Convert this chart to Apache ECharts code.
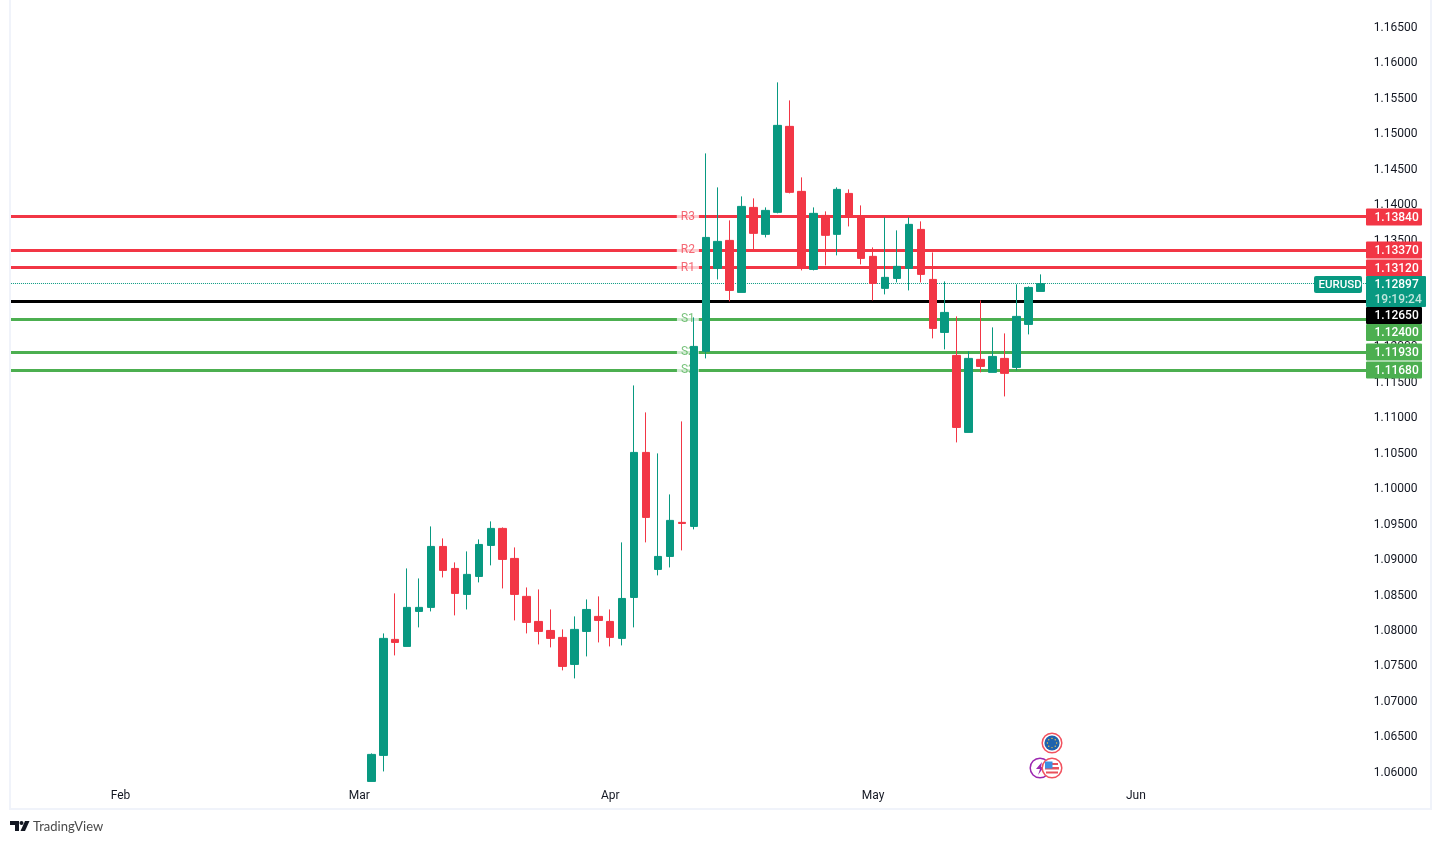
<!DOCTYPE html>
<html>
<head>
<meta charset="utf-8">
<title>EURUSD</title>
<script src="https://cdn.jsdelivr.net/npm/echarts@6/dist/echarts.min.js"></script>
<style>
  html, body { margin: 0; background: #fff; }
  #chart { width: 1441px; height: 844px; }
</style>
</head>
<body>
<div id="chart"></div>
<script>
// Daily EURUSD candles. First candle is 2025-03-04.
const FIRST_CANDLE = 30;
const opens = [
  1.05880, 1.06247, 1.07882, 1.07783, 1.08276, 1.08333, 1.09192, 1.08882, 1.08516, 1.08769,
  1.09206, 1.09446, 1.09023, 1.08488, 1.08135, 1.08008, 1.07910, 1.07529, 1.07994, 1.08206,
  1.08135, 1.07896, 1.08473, 1.10517, 1.08868, 1.09051, 1.09531, 1.09474, 1.11941, 1.13110,
  1.13505, 1.12772, 1.13970, 1.13590, 1.13900, 1.15112, 1.14196, 1.13096, 1.13857, 1.13590,
  1.14167, 1.13843, 1.13280, 1.12829, 1.12969, 1.13110, 1.13660, 1.12955, 1.12208, 1.11884,
  1.10799, 1.11828, 1.11645, 1.11842, 1.11715, 1.12321, 1.12786,
];
const closes = [
  1.06261, 1.07896, 1.07839, 1.08333, 1.08333, 1.09192, 1.08854, 1.08530, 1.08798, 1.09220,
  1.09446, 1.09009, 1.08516, 1.08121, 1.07994, 1.07896, 1.07501, 1.08023, 1.08304, 1.08149,
  1.07910, 1.08459, 1.10517, 1.09601, 1.09051, 1.09559, 1.09516, 1.12011, 1.13547, 1.13491,
  1.12800, 1.13984, 1.13604, 1.13928, 1.15126, 1.14182, 1.13124, 1.13886, 1.13576, 1.14224,
  1.13843, 1.13251, 1.12899, 1.12984, 1.13139, 1.13731, 1.13026, 1.12265, 1.12490, 1.10869,
  1.11842, 1.11729, 1.11870, 1.11631, 1.12434, 1.12842, 1.12897,
];
const lows = [
  1.05880, 1.06021, 1.07656, 1.07783, 1.08051, 1.08276, 1.08755, 1.08220, 1.08304, 1.08685,
  1.08925, 1.08600, 1.08149, 1.07966, 1.07811, 1.07769, 1.07445, 1.07332, 1.07642, 1.07839,
  1.07783, 1.07797, 1.08051, 1.09249, 1.08784, 1.08896, 1.09136, 1.09432, 1.11842, 1.12955,
  1.12645, 1.12772, 1.13378, 1.13547, 1.13886, 1.14167, 1.13082, 1.13082, 1.13153, 1.13294,
  1.13702, 1.13167, 1.12659, 1.12744, 1.12913, 1.12800, 1.12913, 1.12124, 1.11969, 1.10658,
  1.10799, 1.11645, 1.11645, 1.11306, 1.11673, 1.12180, 1.12786,
];
const highs = [
  1.06275, 1.07966, 1.08530, 1.08882, 1.08741, 1.09474, 1.09305, 1.08967, 1.09122, 1.09291,
  1.09545, 1.09460, 1.09178, 1.08614, 1.08586, 1.08304, 1.08023, 1.08206, 1.08445, 1.08488,
  1.08304, 1.09249, 1.11461, 1.11081, 1.10503, 1.09925, 1.10954, 1.12420, 1.14731, 1.14252,
  1.13787, 1.14125, 1.14097, 1.13970, 1.15732, 1.15478, 1.14393, 1.13970, 1.13914, 1.14252,
  1.14224, 1.13998, 1.13406, 1.13829, 1.13646, 1.13829, 1.13773, 1.13336, 1.12927, 1.12434,
  1.11941, 1.12659, 1.12279, 1.12194, 1.12885, 1.12857, 1.13026,
];

// Horizontal levels
const levelNames  = ['R3', 'R2', 'R1', '', 'S1', 'S2', 'S3'];
const levelPrices = [1.1384, 1.1337, 1.1312, 1.1265, 1.124, 1.1193, 1.1168];
const levelColors = ['#f23645', '#f23645', '#f23645', '#000000', '#4caf50', '#4caf50', '#4caf50'];
const lastPrice = 1.12897;
const countdown = '19:19:24';
const symbol = 'EURUSD';

const monthTicks = { '2025-02-03': 'Feb', '2025-03-03': 'Mar', '2025-04-01': 'Apr', '2025-05-01': 'May', '2025-06-02': 'Jun' };
const hiddenTicks = ['1.05500', '1.17000'];

const GREEN = '#089981';
const RED = '#f23645';
const INK = '#131722';
const FONT = 'Roboto';
const FRAME = '#f0f3fa';

// weekdays only, the chart has no gaps for weekends
function weekdays(start, n) {
  const out = [];
  const d = new Date(start + 'T00:00:00Z');
  while (out.length < n) {
    if (d.getUTCDay() % 6 !== 0) out.push(d.toISOString().slice(0, 10));
    d.setUTCDate(d.getUTCDate() + 1);
  }
  return out;
}
const categories = weekdays('2025-01-21', 114);

const candles = opens.map((o, i) => [categories[FIRST_CANDLE + i], o, closes[i], lows[i], highs[i]]);

const chart = echarts.init(document.getElementById('chart'), null, { renderer: 'canvas' });

chart.setOption({
  animation: false,
  textStyle: { fontFamily: FONT },
  grid: { left: 6.95, width: 1361.85, top: -7.6, height: 816, outerBoundsMode: 'none' },
  xAxis: {
    type: 'category', data: categories, boundaryGap: true,
    axisLine: { show: false }, axisTick: { show: false }, splitLine: { show: false },
    axisLabel: {
      inside: true, margin: 6, color: INK, fontSize: 12, fontFamily: FONT,
      interval: (i, v) => v in monthTicks,
      formatter: v => monthTicks[v] || '',
    },
  },
  yAxis: {
    type: 'value', position: 'right', min: 1.055, max: 1.17, interval: 0.005,
    axisLine: { show: false }, axisTick: { show: false }, splitLine: { show: false },
    axisLabel: {
      margin: 5, color: INK, fontSize: 12, fontFamily: FONT, padding: [4, 0, 0, 0],
      formatter: v => hiddenTicks.includes(v.toFixed(5)) ? '' : v.toFixed(5),
    },
  },
  series: [
    {
      type: 'line', data: [], silent: true,
      markLine: {
        silent: true, symbol: 'none', z: 1, animation: false, precision: 5,
        data: [
          {
            yAxis: lastPrice,
            lineStyle: { color: GREEN, width: 1, type: 'dotted' },
            label: { show: false },
          },
          ...levelPrices.map((p, i) => ({
            yAxis: p,
            lineStyle: { color: levelColors[i], width: 3, type: 'solid' },
            label: {
              show: levelNames[i] !== '',
              formatter: levelNames[i],
              position: 'middle', distance: 0, verticalAlign: 'middle',
              color: levelColors[i], opacity: 0.75,
              fontSize: 12, fontFamily: FONT,
              backgroundColor: '#fff', padding: [4, 4, 0, 4],
            },
          })),
        ],
      },
    },
    {
      type: 'candlestick', z: 2, barWidth: 8, silent: true,
      encode: { x: 0, y: [1, 2, 3, 4] },
      itemStyle: { color: GREEN, color0: RED, borderColor: GREEN, borderColor0: RED, borderWidth: 1 },
      data: candles,
    },
  ],
});

// Price tags on the axis sit on the real levels, pushed down when they would overlap
const yOf = p => chart.convertToPixel({ yAxisIndex: 0 }, p);
const TAG_H = 17;
const tagText = (x, y, text, fill, size) => ({
  type: 'text', z: 51, x, y,
  style: { text, fill, font: '500 ' + (size || 12) + 'px ' + FONT, textAlign: 'left', textVerticalAlign: 'middle' },
});
const lastY = Math.round(yOf(lastPrice));
const lastBottom = lastY - 8 + 31;
const tags = [];
let prevBottom = -Infinity;
levelPrices.forEach((p, i) => {
  let top = Math.round(yOf(p)) - TAG_H / 2;
  if (top > lastY - 8) prevBottom = Math.max(prevBottom, lastBottom);
  top = Math.max(top, prevBottom);
  prevBottom = top + TAG_H;
  tags.push({ type: 'rect', z: 50, shape: { x: 1366, y: top, width: 56, height: TAG_H, r: 1 }, style: { fill: levelColors[i] } });
  tags.push(tagText(1374.5, top + 9, p.toFixed(5), '#fff'));
});
tags.push({ type: 'rect', z: 50, shape: { x: 1366, y: lastY - 8, width: 60, height: 31, r: 1 }, style: { fill: GREEN } });
tags.push(tagText(1374.5, lastY + 1, lastPrice.toFixed(5), '#fff'));
tags.push(tagText(1374.5, lastY + 15.5, countdown, '#bfe6dd'));
tags.push({ type: 'rect', z: 50, shape: { x: 1314, y: lastY - 8, width: 48, height: TAG_H, r: 2 }, style: { fill: GREEN } });
tags.push(tagText(1318.5, lastY + 1, symbol, '#fff', 11.5));

// Event markers
const euStars = [0, 1, 2, 3, 4, 5, 6, 7].map(n => ({
  type: 'circle', z: 42,
  shape: { cx: 1052 + 4.6 * Math.cos(n * Math.PI / 4), cy: 743 + 4.6 * Math.sin(n * Math.PI / 4), r: 0.7 },
  style: { fill: '#f5c542' },
}));
const markers = [
  { type: 'circle', z: 40, shape: { cx: 1052, cy: 743, r: 9.8 }, style: { fill: '#fff', stroke: '#f2525f', lineWidth: 1.5 } },
  { type: 'circle', z: 41, shape: { cx: 1052, cy: 743, r: 7.6 }, style: { fill: '#1f62ad' } },
  ...euStars,
  { type: 'circle', z: 40, shape: { cx: 1040, cy: 768, r: 9.8 }, style: { fill: '#fff', stroke: '#9c27b0', lineWidth: 1.5 } },
  { type: 'polygon', z: 41, shape: { points: [[1042, 762], [1036, 769], [1040, 769], [1038, 775], [1044, 767], [1041, 767]] }, style: { fill: '#9c27b0' } },
  { type: 'circle', z: 42, shape: { cx: 1052, cy: 768, r: 9.8 }, style: { fill: '#fff', stroke: '#f2525f', lineWidth: 1.5 } },
  { type: 'rect', z: 43, shape: { x: 1052, y: 763, width: 6, height: 2 }, style: { fill: '#e8505b' } },
  { type: 'rect', z: 43, shape: { x: 1045, y: 767, width: 14, height: 2.5 }, style: { fill: '#e8505b' } },
  { type: 'rect', z: 43, shape: { x: 1046, y: 771.5, width: 12, height: 2 }, style: { fill: '#e8505b' } },
  { type: 'rect', z: 44, shape: { x: 1045, y: 761.5, width: 7.5, height: 7 }, style: { fill: '#3d8fe0' } },
];

// Frame and TradingView mark
const frame = [
  { type: 'rect', z: 30, shape: { x: 0, y: 0, width: 9.5, height: 844 }, style: { fill: '#fff' } },
  { type: 'rect', z: 31, shape: { x: 10, y: -2, width: 1421, height: 811 }, style: { fill: 'transparent', stroke: FRAME, lineWidth: 2 } },
  { type: 'polygon', z: 31, shape: { points: [[10, 821], [19, 821], [19, 831], [15, 831], [15, 825], [10, 825]] }, style: { fill: '#131722' } },
  { type: 'circle', z: 31, shape: { cx: 21.5, cy: 823, r: 2 }, style: { fill: '#131722' } },
  { type: 'polygon', z: 31, shape: { points: [[25, 821], [29.5, 821], [25, 831], [20.5, 831]] }, style: { fill: '#131722' } },
  { type: 'text', z: 31, x: 33, y: 827, style: { text: 'TradingView', fill: '#4a4a4a', font: '13px Lato', textVerticalAlign: 'middle' } },
];

chart.setOption({ graphic: [...frame, ...markers, ...tags] });
window.addEventListener('resize', () => chart.resize());
</script>
</body>
</html>
